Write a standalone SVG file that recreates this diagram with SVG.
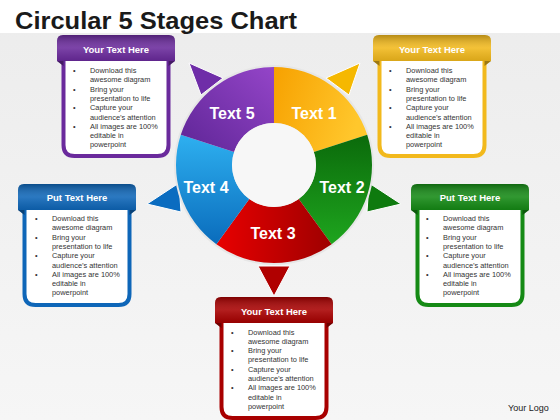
<svg xmlns="http://www.w3.org/2000/svg" xmlns:xlink="http://www.w3.org/1999/xlink" width="560" height="420" viewBox="0 0 560 420">
<style>
.title{font-family:"Liberation Sans",Arial,sans-serif;font-weight:bold;font-size:24px;fill:#1a1a1a}
.seg{font-family:"Liberation Sans",Arial,sans-serif;font-weight:bold;font-size:16px;fill:#ffffff;text-anchor:middle}
.hd{font-family:"Liberation Sans",Arial,sans-serif;font-weight:bold;font-size:9.5px;fill:#ffffff;text-anchor:middle}
.bl{font-family:"Liberation Sans",Arial,sans-serif;font-size:7.4px;fill:#333333}
.logo{font-family:"Liberation Sans",Arial,sans-serif;font-size:9px;fill:#222222}
.tri{stroke:#ffffff;stroke-width:1;stroke-linejoin:round}
.body{fill:#ffffff;stroke:currentColor;stroke-width:4}
</style>
<defs>
<linearGradient id="sheen" x1="0" y1="0" x2="0" y2="1">
<stop offset="0" stop-color="#000" stop-opacity="0.25"/>
<stop offset="0.5" stop-color="#fff" stop-opacity="0.12"/>
<stop offset="1" stop-color="#000" stop-opacity="0.1"/>
</linearGradient>
<linearGradient id="gO" x1="0" y1="0" x2="1" y2="0.3"><stop offset="0" stop-color="#f7a100"/><stop offset="1" stop-color="#ffc72c"/></linearGradient>
<linearGradient id="gG" x1="0" y1="0" x2="0" y2="1"><stop offset="0" stop-color="#0b6a0b"/><stop offset="1" stop-color="#1ea51e"/></linearGradient>
<linearGradient id="gR" x1="0" y1="0" x2="1" y2="0"><stop offset="0" stop-color="#e80000"/><stop offset="1" stop-color="#9e0000"/></linearGradient>
<linearGradient id="gB" x1="0" y1="0" x2="0" y2="1"><stop offset="0" stop-color="#2eb0f0"/><stop offset="1" stop-color="#0a6cbc"/></linearGradient>
<linearGradient id="gP" x1="1" y1="0" x2="0" y2="1"><stop offset="0" stop-color="#9445c8"/><stop offset="1" stop-color="#5e2596"/></linearGradient>
<linearGradient id="bg" x1="0" y1="0" x2="0" y2="1"><stop offset="0" stop-color="#ececec"/><stop offset="1" stop-color="#f6f6f6"/></linearGradient>
<g id="boxshape">
<path class="body" d="M6.5,22 V110 Q6.5,121 17.5,121 H100.5 Q111.5,121 111.5,110 V22 Z"/>
<path d="M0,26 L6.5,26 L6.5,31 Z M118,26 L111.5,26 L111.5,31 Z" fill="currentColor"/>
<path d="M0,26 L6.5,26 L6.5,31 Z M118,26 L111.5,26 L111.5,31 Z" fill="#000" fill-opacity="0.35"/>
<path d="M0,26 V6 Q0,0 6,0 H112 Q118,0 118,6 V26 Z" fill="currentColor"/>
<path d="M0,26 V6 Q0,0 6,0 H112 Q118,0 118,6 V26 Z" fill="url(#sheen)"/>
</g>
</defs>
<rect x="0" y="0" width="560" height="420" fill="url(#bg)"/>
<rect x="0" y="0" width="560" height="33" fill="#ffffff"/>
<text class="title" x="15" y="29" textLength="282" lengthAdjust="spacingAndGlyphs">Circular 5  Stages Chart</text>

<g id="connectors">
<polygon class="tri" points="189,63 223,78 201,95" fill="#6f2da8"/>
<polygon class="tri" points="360,63 326,78 349,95" fill="#f5b800"/>
<polygon class="tri" points="147,204 179,183 181,212" fill="#0a6cc0"/>
<polygon class="tri" points="401,204 369,183 367,212" fill="#0e7a0e"/>
<polygon class="tri" points="258,266 290,266 274,296" fill="#b00000"/>
</g>

<g id="wheel">
<circle cx="274" cy="165" r="100" fill="#e6e6e6"/>
<g id="seg1"><path d="M274,67 A98,98 0 0 1 367.2,134.7 L313.9,152 A42,42 0 0 0 274,123 Z" fill="url(#gO)"/><text class="seg" x="314" y="119">Text 1</text></g>
<g id="seg2"><path d="M367.2,134.7 A98,98 0 0 1 331.6,244.3 L298.7,199 A42,42 0 0 0 313.9,152 Z" fill="url(#gG)"/><text class="seg" x="342" y="193">Text 2</text></g>
<g id="seg3"><path d="M331.6,244.3 A98,98 0 0 1 216.4,244.3 L249.3,199 A42,42 0 0 0 298.7,199 Z" fill="url(#gR)"/><text class="seg" x="273" y="239">Text 3</text></g>
<g id="seg4"><path d="M216.4,244.3 A98,98 0 0 1 180.8,134.7 L234.1,152 A42,42 0 0 0 249.3,199 Z" fill="url(#gB)"/><text class="seg" x="206" y="193">Text 4</text></g>
<g id="seg5"><path d="M180.8,134.7 A98,98 0 0 1 274,67 L274,123 A42,42 0 0 0 234.1,152 Z" fill="url(#gP)"/><text class="seg" x="232" y="119">Text 5</text></g>
<circle cx="274" cy="165" r="42" fill="#f7f7f7"/>
</g>

<g id="box-purple" transform="translate(57,35)" style="color:#6a2a9c">
<use xlink:href="#boxshape"/>
<text class="hd" x="59" y="18">Your Text Here</text>
<text class="bl"><tspan x="16" y="38">•</tspan><tspan x="33" y="38">Download this</tspan><tspan x="33" y="47.3">awesome diagram</tspan><tspan x="16" y="56.6">•</tspan><tspan x="33" y="56.6">Bring your</tspan><tspan x="33" y="65.9">presentation to life</tspan><tspan x="16" y="75.2">•</tspan><tspan x="33" y="75.2">Capture your</tspan><tspan x="33" y="84.5">audience’s attention</tspan><tspan x="16" y="93.8">•</tspan><tspan x="33" y="93.8">All images are 100%</tspan><tspan x="33" y="103.1">editable in</tspan><tspan x="33" y="112.4">powerpoint</tspan></text>
</g>

<g id="box-yellow" transform="translate(373,35)" style="color:#f2b91c">
<use xlink:href="#boxshape"/>
<text class="hd" x="59" y="18">Your Text Here</text>
<text class="bl"><tspan x="16" y="38">•</tspan><tspan x="33" y="38">Download this</tspan><tspan x="33" y="47.3">awesome diagram</tspan><tspan x="16" y="56.6">•</tspan><tspan x="33" y="56.6">Bring your</tspan><tspan x="33" y="65.9">presentation to life</tspan><tspan x="16" y="75.2">•</tspan><tspan x="33" y="75.2">Capture your</tspan><tspan x="33" y="84.5">audience’s attention</tspan><tspan x="16" y="93.8">•</tspan><tspan x="33" y="93.8">All images are 100%</tspan><tspan x="33" y="103.1">editable in</tspan><tspan x="33" y="112.4">powerpoint</tspan></text>
</g>

<g id="box-blue" transform="translate(18,184)" style="color:#0e66b8">
<use xlink:href="#boxshape"/>
<text class="hd" x="59" y="17">Put Text Here</text>
<text class="bl"><tspan x="17" y="37">•</tspan><tspan x="34" y="37">Download this</tspan><tspan x="34" y="46.3">awesome diagram</tspan><tspan x="17" y="55.6">•</tspan><tspan x="34" y="55.6">Bring your</tspan><tspan x="34" y="64.9">presentation to life</tspan><tspan x="17" y="74.2">•</tspan><tspan x="34" y="74.2">Capture your</tspan><tspan x="34" y="83.5">audience’s attention</tspan><tspan x="17" y="92.8">•</tspan><tspan x="34" y="92.8">All images are 100%</tspan><tspan x="34" y="102.1">editable in</tspan><tspan x="34" y="111.4">powerpoint</tspan></text>
</g>

<g id="box-green" transform="translate(411,184)" style="color:#158a15">
<use xlink:href="#boxshape"/>
<text class="hd" x="59" y="17">Put Text Here</text>
<text class="bl"><tspan x="15" y="37">•</tspan><tspan x="32" y="37">Download this</tspan><tspan x="32" y="46.3">awesome diagram</tspan><tspan x="15" y="55.6">•</tspan><tspan x="32" y="55.6">Bring your</tspan><tspan x="32" y="64.9">presentation to life</tspan><tspan x="15" y="74.2">•</tspan><tspan x="32" y="74.2">Capture your</tspan><tspan x="32" y="83.5">audience’s attention</tspan><tspan x="15" y="92.8">•</tspan><tspan x="32" y="92.8">All images are 100%</tspan><tspan x="32" y="102.1">editable in</tspan><tspan x="32" y="111.4">powerpoint</tspan></text>
</g>

<g id="box-red" transform="translate(215,297)" style="color:#a80000">
<use xlink:href="#boxshape"/>
<text class="hd" x="59" y="18">Your Text Here</text>
<text class="bl"><tspan x="16" y="37.5">•</tspan><tspan x="33" y="37.5">Download this</tspan><tspan x="33" y="46.8">awesome diagram</tspan><tspan x="16" y="56.1">•</tspan><tspan x="33" y="56.1">Bring your</tspan><tspan x="33" y="65.4">presentation to life</tspan><tspan x="16" y="74.7">•</tspan><tspan x="33" y="74.7">Capture your</tspan><tspan x="33" y="84">audience’s attention</tspan><tspan x="16" y="93.3">•</tspan><tspan x="33" y="93.3">All images are 100%</tspan><tspan x="33" y="102.6">editable in</tspan><tspan x="33" y="111.9">powerpoint</tspan></text>
</g>

<text class="logo" x="508" y="411">Your Logo</text>
</svg>
